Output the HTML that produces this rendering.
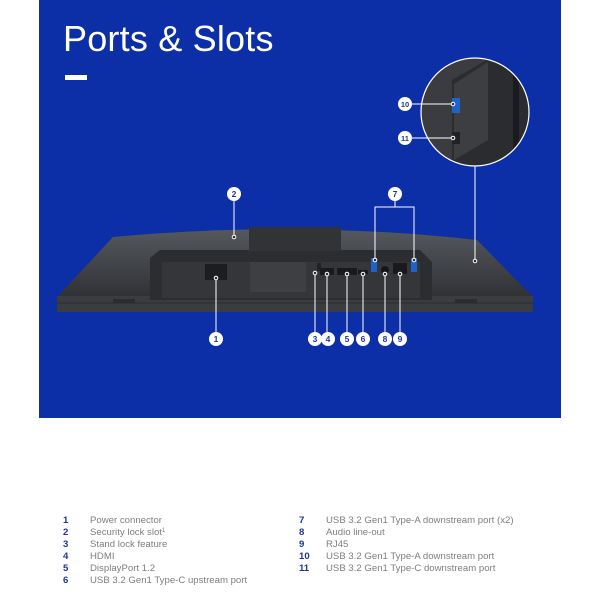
<!DOCTYPE html>
<html><head><meta charset="utf-8"><style>
body{margin:0;width:600px;height:600px;background:#fff;overflow:hidden;font-family:"Liberation Sans",sans-serif}
.blue{position:absolute;left:39px;top:0;width:522px;height:418px;background:#0c2ea6}
.title{position:absolute;left:63px;top:18px;color:#fff;font-size:36px;font-weight:300;letter-spacing:0.2px}
.bar{position:absolute;left:65px;top:75px;width:22px;height:5px;background:#fff}
.leg{position:absolute;font-size:9.6px;color:#7e7e7e;line-height:12px}
.leg b{position:absolute;color:#1c3a8f;font-weight:bold}
.leg span{position:absolute;white-space:nowrap}
.leg i{font-style:normal;font-size:6px;position:relative;top:-3px}
svg{position:absolute;left:0;top:0}
</style></head><body>
<div class="blue"></div>
<div class="title">Ports &amp; Slots</div>
<div class="bar"></div>
<svg width="600" height="600" viewBox="0 0 600 600">
 <defs>
  <linearGradient id="g1" x1="0" y1="0" x2="0" y2="1"><stop offset="0" stop-color="#55585d"/><stop offset="1" stop-color="#303236"/></linearGradient>
  <clipPath id="cc"><circle cx="475" cy="112" r="54"/></clipPath>
 </defs>
 <path d="M113,237 Q300,220 477,240 L532,296 L58,296 Z" fill="url(#g1)"/>
 <rect x="57" y="296" width="476" height="16" fill="#3a3c40"/>
 <line x1="57" y1="303" x2="533" y2="303" stroke="#2a2b2e" stroke-width="1"/>
 <path d="M150,258 L160,250 L420,250 L432,262 L432,300 L150,300 Z" fill="#2b2d31"/>
 <rect x="162" y="262" width="258" height="36" fill="#343639"/>
 <rect x="249" y="227" width="92" height="24" fill="#313337"/>
 <rect x="250" y="262" width="56" height="30" fill="#3d3f43"/>
 <rect x="205" y="264" width="22" height="16" fill="#1c1d20"/>
 <rect x="317" y="263" width="4" height="8" fill="#222"/>
 <rect x="320" y="268" width="14" height="7" fill="#1a1a1c"/>
 <rect x="337" y="268" width="20" height="7" fill="#1a1a1c"/>
 <rect x="358" y="270" width="10" height="4" fill="#1a1a1c"/>
 <rect x="371" y="258" width="6" height="14" fill="#1e63c9"/>
 <rect x="411" y="258" width="6" height="14" fill="#1e63c9"/>
 <circle cx="385" cy="270" r="4" fill="#151517"/>
 <rect x="393" y="263" width="14" height="11" fill="#1a1a1c"/>
 <rect x="113" y="299" width="22" height="4" fill="#2b2c2f"/>
 <rect x="455" y="299" width="22" height="4" fill="#2b2c2f"/>
 <g clip-path="url(#cc)">
  <rect x="420" y="57" width="110" height="110" fill="#3a3c40"/>
  <path d="M452,80 L490,58 L530,58 L530,167 L452,167 Z" fill="#2a2c30"/>
  <path d="M454,84 L488,62 L488,140 L454,160 Z" fill="#3c3e42"/>
  <rect x="513" y="70" width="6" height="97" fill="#1a1b1e"/>
  <rect x="452" y="98" width="8" height="15" fill="#1e63c9"/>
  <rect x="452" y="132" width="8" height="12" fill="#202124"/>
 </g>
 <circle cx="475" cy="112" r="54" fill="none" stroke="#fff" stroke-width="1.2"/>
 <g stroke="#fff" stroke-width="1" fill="none">
  <line x1="216" y1="278" x2="216" y2="332"/>
  <line x1="234" y1="201" x2="234" y2="236"/>
  <line x1="315" y1="273" x2="315" y2="332"/>
  <line x1="327" y1="274" x2="327" y2="332"/>
  <line x1="347" y1="274" x2="347" y2="332"/>
  <line x1="363" y1="274" x2="363" y2="332"/>
  <line x1="385" y1="274" x2="385" y2="332"/>
  <line x1="400" y1="274" x2="400" y2="332"/>
  <path d="M375,260 L375,207 L414,207 L414,260 M395,207 L395,201"/>
  <line x1="475" y1="166" x2="475" y2="261"/>
  <line x1="412" y1="104" x2="453" y2="104"/>
  <line x1="412" y1="138" x2="453" y2="138"/>
 </g>
 <g fill="#2a2c30" stroke="#fff" stroke-width="1">
  <circle cx="216" cy="278" r="1.8"/><circle cx="234" cy="237" r="1.8"/>
  <circle cx="315" cy="273" r="1.8"/><circle cx="327" cy="274" r="1.8"/>
  <circle cx="347" cy="274" r="1.8"/><circle cx="363" cy="274" r="1.8"/>
  <circle cx="385" cy="274" r="1.8"/><circle cx="400" cy="274" r="1.8"/>
  <circle cx="375" cy="260" r="1.8"/><circle cx="414" cy="260" r="1.8"/>
  <circle cx="475" cy="261" r="1.8"/><circle cx="453" cy="104" r="1.8"/><circle cx="453" cy="138" r="1.8"/>
 </g>
 <g font-family="Liberation Sans,sans-serif" font-size="8.5" font-weight="bold" fill="#1c3a8f" text-anchor="middle">
  <circle cx="216" cy="339" r="7" fill="#fff"/><text x="216" y="342">1</text>
  <circle cx="234" cy="194" r="7" fill="#fff"/><text x="234" y="197">2</text>
  <circle cx="315" cy="339" r="7" fill="#fff"/><text x="315" y="342">3</text>
  <circle cx="328" cy="339" r="7" fill="#fff"/><text x="328" y="342">4</text>
  <circle cx="347" cy="339" r="7" fill="#fff"/><text x="347" y="342">5</text>
  <circle cx="363" cy="339" r="7" fill="#fff"/><text x="363" y="342">6</text>
  <circle cx="395" cy="194" r="7" fill="#fff"/><text x="395" y="197">7</text>
  <circle cx="385" cy="339" r="7" fill="#fff"/><text x="385" y="342">8</text>
  <circle cx="400" cy="339" r="7" fill="#fff"/><text x="400" y="342">9</text>
  <circle cx="405" cy="104" r="7" fill="#fff"/><text x="405" y="107" font-size="7.5">10</text>
  <circle cx="405" cy="138" r="7" fill="#fff"/><text x="405" y="141" font-size="7.5">11</text>
 </g>
</svg>
<div class="leg" style="left:0;top:515px">
 <b style="left:63px;top:0">1</b><span style="left:90px;top:0">Power connector</span>
 <b style="left:63px;top:12px">2</b><span style="left:90px;top:12px">Security lock slot<i>1</i></span>
 <b style="left:63px;top:24px">3</b><span style="left:90px;top:24px">Stand lock feature</span>
 <b style="left:63px;top:36px">4</b><span style="left:90px;top:36px">HDMI</span>
 <b style="left:63px;top:48px">5</b><span style="left:90px;top:48px">DisplayPort 1.2</span>
 <b style="left:63px;top:60px">6</b><span style="left:90px;top:60px">USB 3.2 Gen1 Type-C upstream port</span>
 <b style="left:299px;top:0">7</b><span style="left:326px;top:0">USB 3.2 Gen1 Type-A downstream port (x2)</span>
 <b style="left:299px;top:12px">8</b><span style="left:326px;top:12px">Audio line-out</span>
 <b style="left:299px;top:24px">9</b><span style="left:326px;top:24px">RJ45</span>
 <b style="left:299px;top:36px">10</b><span style="left:326px;top:36px">USB 3.2 Gen1 Type-A downstream port</span>
 <b style="left:299px;top:48px">11</b><span style="left:326px;top:48px">USB 3.2 Gen1 Type-C downstream port</span>
</div>
</body></html>
